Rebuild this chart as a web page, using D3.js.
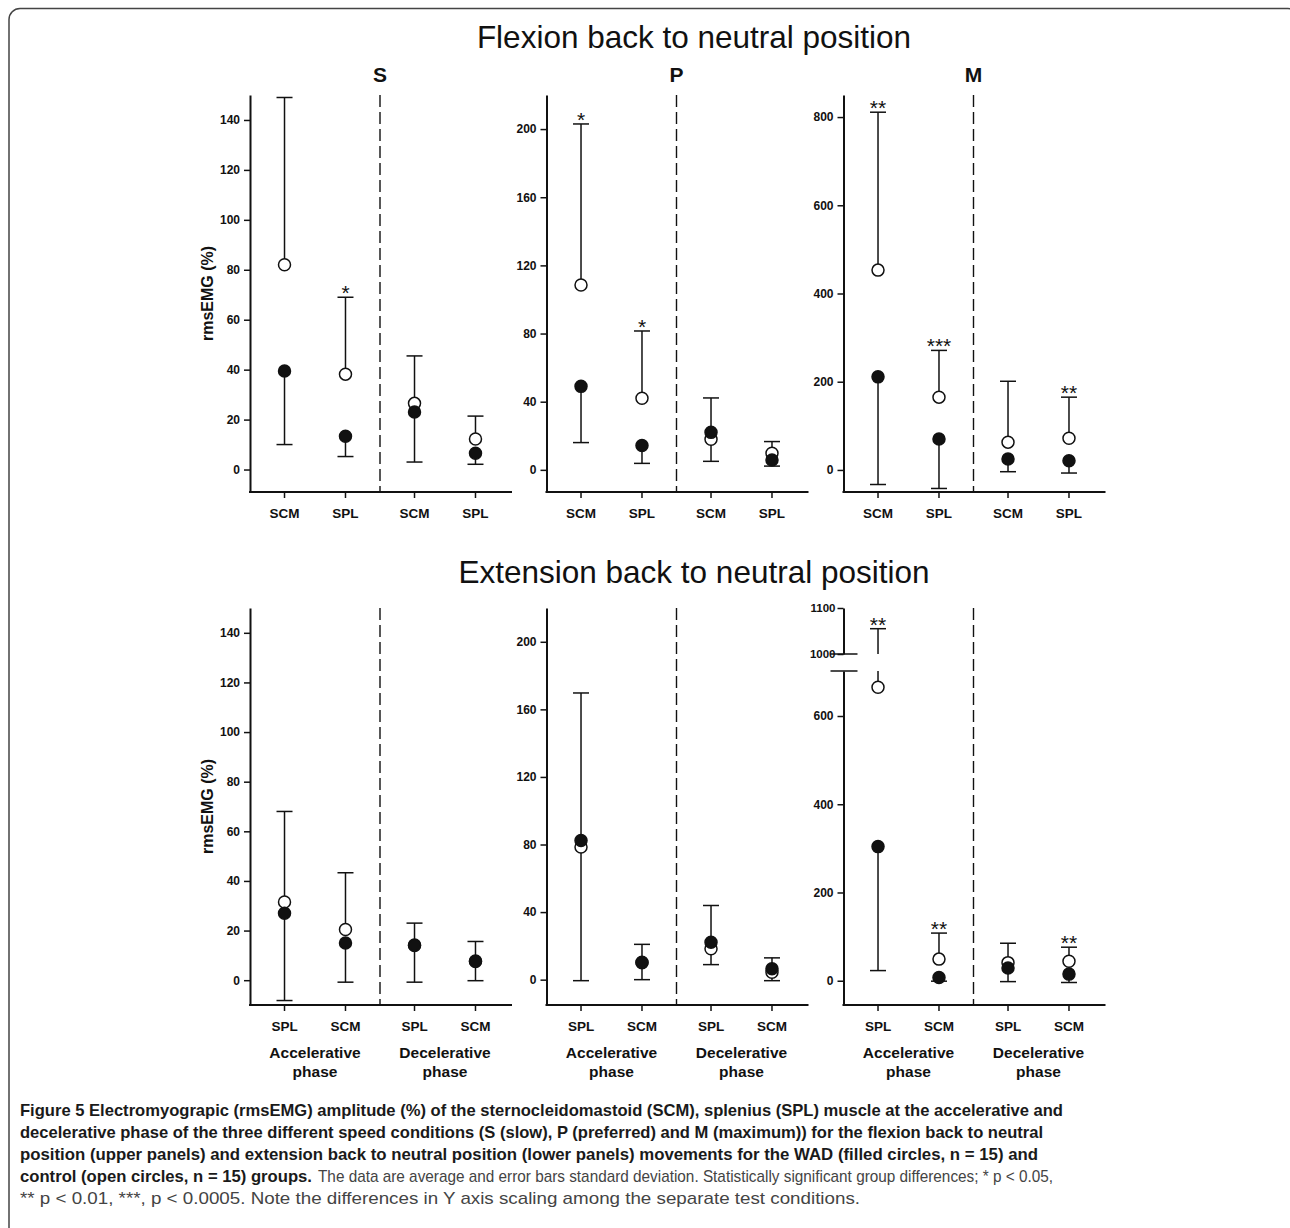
<!DOCTYPE html>
<html>
<head>
<meta charset="utf-8">
<script src="https://cdn.jsdelivr.net/npm/d3@7"></script>
<style>
  body { margin: 0; background: #fff; }
  svg text { font-family: "Liberation Sans", Arial, sans-serif; }
</style>
</head>
<body>
<svg id="fig" width="1290" height="1228"></svg>
<script>
// categories
const phases = ["Accelerative", "Decelerative"];
const flexMuscles = ["SCM", "SPL"];
const extMuscles = ["SPL", "SCM"];
const speeds = ["S", "P", "M"];

// flexion back to neutral: acc SCM, acc SPL, dec SCM, dec SPL  (rows = S, P, M)
const flexWadMean  = [[39.5, 13.3, 23, 6.5], [49, 14.3, 22, 5.8], [211, 70, 25, 21]];
const flexWadSD    = [[29.5, 8.1, 20, 4.4], [33, 10.5, 17, 3.6], [244, 112, 29, 28]];
const flexCtrlMean = [[82, 38.2, 26.5, 12.2], [108.5, 42, 18, 9.7], [453, 165, 63, 72]];
const flexCtrlSD   = [[67, 30.8, 19, 9.2], [94.5, 39.5, 24.2, 6.9], [358, 106, 138, 93]];
const flexStars    = [["", "*", "", ""], ["*", "*", "", ""], ["**", "***", "", "**"]];

// extension back to neutral: acc SPL, acc SCM, dec SPL, dec SCM
const extWadMean  = [[27, 15, 14.2, 7.7], [82.4, 10.3, 22.2, 6.4], [304, 7.5, 29, 15]];
const extWadSD    = [[35.2, 15.8, 15, 7.9], [83, 10.3, 13.3, 7], [281, 8.5, 31, 19]];
const extCtrlMean = [[31.5, 20.4, 14, 7.5], [78.5, 10, 18.3, 4.4], [665, 49, 41, 44]];
const extCtrlSD   = [[36.5, 22.9, 9, 8.1], [91.2, 10.9, 25.6, 8.5], [390, 59, 44, 32]];
const extStars    = [["", "", "", ""], ["", "", "", ""], ["**", "**", "", "**"]];

// y axis ticks and ranges
const flexTicks = [[0, 20, 40, 60, 80, 100, 120, 140], [0, 40, 80, 120, 160, 200], [0, 200, 400, 600, 800]];
const extTicks  = [[0, 20, 40, 60, 80, 100, 120, 140], [0, 40, 80, 120, 160, 200], [0, 200, 400, 600]];
const extUpperTicks = [1000, 1100];
const flexDomains = [[-9, 150], [-13, 220], [-50, 850]];
const extDomains  = [[-10, 150], [-15, 220], [-55, 702]];
const extUpperDomain = [1000, 1100];

const ink = "#111";
const svg = d3.select("#fig");

// frame
svg.append("rect")
  .attr("x", 9).attr("y", 8.5).attr("width", 1290).attr("height", 1300).attr("rx", 11)
  .attr("fill", "none").attr("stroke", "#444").attr("stroke-width", 1.5);

// row titles
svg.append("text").attr("x", 694).attr("y", 48).attr("text-anchor", "middle")
  .attr("font-size", 31.5).attr("fill", ink).text("Flexion back to neutral position");
svg.append("text").attr("x", 694).attr("y", 583).attr("text-anchor", "middle")
  .attr("font-size", 31.5).attr("fill", ink).text("Extension back to neutral position");

const colX = [250, 546.5, 843.5];

function styleAxis(ax) {
  ax.attr("font-size", null).attr("font-family", null);
  ax.select(".domain").attr("stroke", ink).attr("stroke-width", 2);
  ax.selectAll(".tick line").attr("stroke", ink).attr("stroke-width", 1.5);
  ax.selectAll(".tick text").attr("fill", ink).attr("font-size", 12).attr("font-weight", "bold");
}

function drawPanel(p) {
  const g = svg.append("g");
  const x0 = p.x0;
  const xPhase = d3.scaleBand().domain(phases).range([x0, x0 + 260]);
  const xMus = d3.scalePoint().domain(p.muscles).range([0, xPhase.bandwidth()]).padding(0.566);
  const cats = [0, 1, 2, 3].map(i => ({ i: i, phase: phases[Math.floor(i / 2)], muscle: p.muscles[i % 2] }));
  const cx = d => xPhase(d.phase) + xMus(d.muscle);

  const yLow = d3.scaleLinear().domain(p.domain).range([p.yBottom, p.broken ? p.breakLow : p.yTop]);
  const yHigh = p.broken ? d3.scaleLinear().domain(extUpperDomain).range([p.breakHigh, p.yTop]) : null;
  const yv = v => (yHigh && v > p.domain[1]) ? yHigh(v) : yLow(v);

  // y axis
  const ax = g.append("g").attr("transform", `translate(${x0},0)`)
    .call(d3.axisLeft(yLow).tickValues(p.ticks).tickSize(6).tickSizeOuter(0).tickPadding(4).tickFormat(d3.format("d")));
  styleAxis(ax);
  if (p.broken) {
    const ax2 = g.append("g").attr("transform", `translate(${x0},0)`)
      .call(d3.axisLeft(yHigh).tickValues(extUpperTicks).tickSize(6).tickSizeOuter(0).tickPadding(2).tickFormat(d3.format("d")));
    styleAxis(ax2);
    ax2.selectAll(".tick text").attr("font-size", 11.5);
    g.selectAll("line.brk").data([p.breakLow, p.breakHigh]).join("line").attr("class", "brk")
      .attr("x1", x0 - 13).attr("x2", x0 + 14).attr("y1", d => d).attr("y2", d => d)
      .attr("stroke", ink).attr("stroke-width", 1.5);
  }

  // x axis
  g.append("line").attr("x1", x0 - 1).attr("x2", x0 + 262)
    .attr("y1", p.yBottom).attr("y2", p.yBottom).attr("stroke", ink).attr("stroke-width", 2);
  g.selectAll("line.xt").data(cats).join("line").attr("class", "xt")
    .attr("x1", cx).attr("x2", cx).attr("y1", p.yBottom).attr("y2", p.yBottom + 6)
    .attr("stroke", ink).attr("stroke-width", 1.5);
  g.selectAll("text.xl").data(cats).join("text").attr("class", "xl")
    .attr("x", cx).attr("y", p.yBottom + 26).attr("text-anchor", "middle")
    .attr("font-size", 13.5).attr("font-weight", "bold").attr("fill", ink)
    .text(d => d.muscle);

  if (p.phaseLabels) {
    const pl = g.selectAll("text.ph").data(phases).join("text").attr("class", "ph")
      .attr("x", d => xPhase(d) + xPhase.bandwidth() / 2).attr("y", p.yBottom + 53)
      .attr("text-anchor", "middle").attr("font-size", 15.5).attr("font-weight", "bold").attr("fill", ink);
    pl.append("tspan").text(d => d);
    pl.append("tspan").attr("x", d => xPhase(d) + xPhase.bandwidth() / 2).attr("dy", 18.5).text("phase");
  }

  // phase divider
  g.append("line").attr("x1", xPhase(phases[1])).attr("x2", xPhase(phases[1]))
    .attr("y1", p.yTop).attr("y2", p.yBottom)
    .attr("stroke", ink).attr("stroke-width", 1.4).attr("stroke-dasharray", "12,5");

  if (p.title) {
    g.append("text").attr("x", xPhase(phases[1])).attr("y", 82).attr("text-anchor", "middle")
      .attr("font-size", 21).attr("font-weight", "bold").attr("fill", ink).text(p.title);
  }

  if (p.ylabel) {
    g.append("text").attr("transform", `translate(213,${(p.yTop + p.yBottom) / 2}) rotate(-90)`)
      .attr("text-anchor", "middle").attr("font-size", 16).attr("font-weight", "bold").attr("fill", ink)
      .text("rmsEMG (%)");
  }

  // error bars: WAD down, control up
  const segs = [];
  const caps = [];
  cats.forEach(d => {
    const x = cx(d);
    const wm = p.wadMean[d.i], wl = wm - p.wadSD[d.i];
    segs.push({ x: x, y1: yv(wm), y2: yv(wl) });
    caps.push({ x: x, y: yv(wl) });
    const cm = p.ctrlMean[d.i], cu = cm + p.ctrlSD[d.i];
    if (yHigh && cu > p.domain[1]) {
      segs.push({ x: x, y1: yLow(cm), y2: p.breakLow });
      segs.push({ x: x, y1: p.breakHigh, y2: yHigh(cu) });
    } else {
      segs.push({ x: x, y1: yv(cm), y2: yv(cu) });
    }
    caps.push({ x: x, y: yv(cu) });
  });
  g.selectAll("line.eb").data(segs).join("line").attr("class", "eb")
    .attr("x1", d => d.x).attr("x2", d => d.x).attr("y1", d => d.y1).attr("y2", d => d.y2)
    .attr("stroke", ink).attr("stroke-width", 1.5);
  g.selectAll("line.cap").data(caps).join("line").attr("class", "cap")
    .attr("x1", d => d.x - 8).attr("x2", d => d.x + 8).attr("y1", d => d.y).attr("y2", d => d.y)
    .attr("stroke", ink).attr("stroke-width", 1.5);

  // significance stars above control caps
  g.selectAll("text.star").data(cats.filter(d => p.stars[d.i])).join("text").attr("class", "star")
    .attr("x", cx).attr("y", d => yv(p.ctrlMean[d.i] + p.ctrlSD[d.i]) + 3)
    .attr("text-anchor", "middle").attr("font-size", 21).attr("fill", ink)
    .text(d => p.stars[d.i]);

  // control (open) then WAD (filled)
  g.selectAll("circle.ctrl").data(cats).join("circle").attr("class", "ctrl")
    .attr("cx", cx).attr("cy", d => yv(p.ctrlMean[d.i])).attr("r", 6)
    .attr("fill", "#fff").attr("stroke", ink).attr("stroke-width", 1.5);
  g.selectAll("circle.wad").data(cats).join("circle").attr("class", "wad")
    .attr("cx", cx).attr("cy", d => yv(p.wadMean[d.i])).attr("r", 6)
    .attr("fill", ink).attr("stroke", ink).attr("stroke-width", 1.5);
}

speeds.forEach((s, k) => {
  drawPanel({
    x0: colX[k], yTop: 95, yBottom: 492, muscles: flexMuscles,
    wadMean: flexWadMean[k], wadSD: flexWadSD[k], ctrlMean: flexCtrlMean[k], ctrlSD: flexCtrlSD[k],
    stars: flexStars[k], domain: flexDomains[k], ticks: flexTicks[k],
    title: s, ylabel: k === 0
  });
  drawPanel({
    x0: colX[k], yTop: 608, yBottom: 1005, muscles: extMuscles,
    wadMean: extWadMean[k], wadSD: extWadSD[k], ctrlMean: extCtrlMean[k], ctrlSD: extCtrlSD[k],
    stars: extStars[k], domain: extDomains[k], ticks: extTicks[k],
    ylabel: k === 0, phaseLabels: true,
    broken: k === 2, breakLow: 671, breakHigh: 654
  });
});

// caption
const capFont = '"Liberation Sans Narrow", "Liberation Sans", Arial, sans-serif';
const caption = [
  [{ t: "Figure 5 Electromyograpic (rmsEMG) amplitude (%) of the sternocleidomastoid (SCM), splenius (SPL) muscle at the accelerative and", b: true, x0: 20, x1: 1063 }],
  [{ t: "decelerative phase of the three different speed conditions (S (slow), P (preferred) and M (maximum)) for the flexion back to neutral", b: true, x0: 20, x1: 1043 }],
  [{ t: "position (upper panels) and extension back to neutral position (lower panels) movements for the WAD (filled circles, n = 15) and", b: true, x0: 20, x1: 1038 }],
  [{ t: "control (open circles, n = 15) groups.", b: true, x0: 20, x1: 312 },
   { t: "The data are average and error bars standard deviation. Statistically significant group differences; * p < 0.05,", b: false, x0: 318, x1: 1053 }],
  [{ t: "** p < 0.01, ***, p < 0.0005. Note the differences in Y axis scaling among the separate test conditions.", b: false, x0: 20, x1: 860 }]
];
caption.forEach((line, li) => {
  line.forEach(seg => {
    svg.append("text")
      .attr("x", seg.x0).attr("y", 1116 + li * 22)
      .attr("font-family", capFont).attr("font-size", 17)
      .attr("font-weight", seg.b ? "bold" : "normal")
      .attr("fill", seg.b ? "#1a1a1a" : "#444")
      .attr("textLength", seg.x1 - seg.x0).attr("lengthAdjust", "spacingAndGlyphs")
      .text(seg.t);
  });
});
</script>
</body>
</html>
